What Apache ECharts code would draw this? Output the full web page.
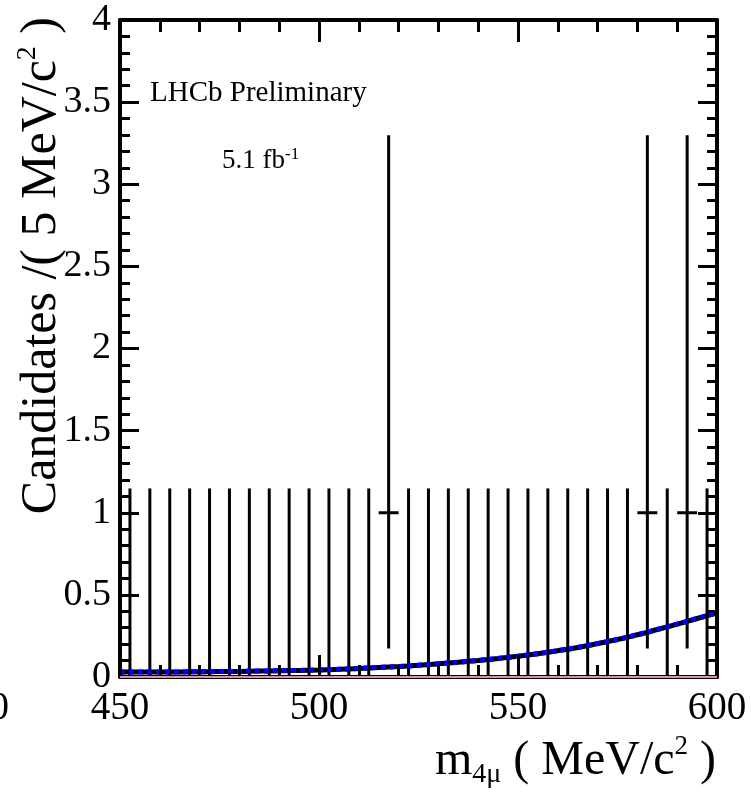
<!DOCTYPE html>
<html>
<head>
<meta charset="utf-8">
<script src="https://cdn.jsdelivr.net/npm/echarts@6/dist/echarts.min.js"></script>
<style>
html,body{margin:0;padding:0;background:#fff;}
#chart{width:751px;height:796px;}
</style>
</head>
<body>
<div id="chart"></div>
<script>
// ---- data ----
const binWidth = 5;
const binCenters = [452.5, 457.5, 462.5, 467.5, 472.5, 477.5, 482.5, 487.5, 492.5, 497.5,
                    502.5, 507.5, 512.5, 517.5, 522.5, 527.5, 532.5, 537.5, 542.5, 547.5,
                    552.5, 557.5, 562.5, 567.5, 572.5, 577.5, 582.5, 587.5, 592.5, 597.5];
const counts     = [0,0,0,0,0,0,0,0,0,0, 0,0,0,1,0,0,0,0,0,0, 0,0,0,0,0,0,1,0,1,0];
const errLow     = [0,0,0,0,0,0,0,0,0,0, 0,0,0,0.827,0,0,0,0,0,0, 0,0,0,0,0,0,0.827,0,0.827,0];
const errHigh    = [1.148,1.148,1.148,1.148,1.148,1.148,1.148,1.148,1.148,1.148,
                    1.148,1.148,1.148,2.299,1.148,1.148,1.148,1.148,1.148,1.148,
                    1.148,1.148,1.148,1.148,1.148,1.148,2.299,1.148,2.299,1.148];
const curveX = [450,455,460,465,470,475,480,485,490,495,500,505,510,515,520,525,530,535,540,545,550,555,560,565,570,575,580,585,590,595,600];
const curveY = [0.030,0.030,0.031,0.031,0.032,0.033,0.034,0.036,0.038,0.040,0.043,0.047,0.052,0.058,0.064,0.071,0.080,0.090,0.101,0.113,0.126,0.142,0.160,0.180,0.203,0.228,0.257,0.289,0.322,0.356,0.390];
const signalX = [450, 600];
const signalY = [0, 0];
const xTickLabels = ['450','500','550','600'];
const yTickLabels = ['0','0.5','1','1.5','2','2.5','3','3.5','4'];

// ---- chart ----
const FONT = 'Liberation Serif';
const chart = echarts.init(document.getElementById('chart'));

const errData = binCenters.map((x, i) => [x, counts[i], errLow[i], errHigh[i]]);
const curveData = curveX.map((x, i) => [x, curveY[i]]);
const signalData = signalX.map((x, i) => [x, signalY[i]]);

function renderErr(params, api) {
  const x = api.value(0), y = api.value(1), lo = api.value(2), hi = api.value(3);
  const top = api.coord([x, y + hi]);
  const bot = api.coord([x, y - lo]);
  const l = api.coord([x - binWidth / 2, y]);
  const r = api.coord([x + binWidth / 2, y]);
  const st = { stroke: '#000', lineWidth: 3 };
  return {
    type: 'group',
    children: [
      { type: 'line', shape: { x1: top[0], y1: top[1], x2: bot[0], y2: bot[1] }, style: st },
      { type: 'line', shape: { x1: l[0], y1: l[1], x2: r[0], y2: r[1] }, style: st }
    ]
  };
}

function xAxisDef(pos, showLabel) {
  return {
    type: 'value', position: pos, min: 450, max: 600, interval: 50, z: 5,
    axisLine: { show: true, onZero: false, lineStyle: { color: '#000', width: 4 } },
    axisTick: { show: true, inside: true, length: 22, lineStyle: { color: '#000', width: 3 } },
    minorTick: { show: true, splitNumber: 5, length: 12, lineStyle: { color: '#000', width: 3 } },
    splitLine: { show: false }, minorSplitLine: { show: false },
    axisLabel: {
      show: showLabel, margin: 12, fontFamily: FONT, fontSize: 39, color: '#000', lineHeight: 40,
      formatter: v => xTickLabels[Math.round((v - 450) / 50)]
    }
  };
}
function yAxisDef(pos, showLabel) {
  return {
    type: 'value', position: pos, min: 0, max: 4, interval: 0.5, z: 5,
    axisLine: { show: true, onZero: false, lineStyle: { color: '#000', width: 4 } },
    axisTick: { show: true, inside: true, length: 19, lineStyle: { color: '#000', width: 3 } },
    minorTick: { show: true, splitNumber: 5, length: 10, lineStyle: { color: '#000', width: 3 } },
    splitLine: { show: false }, minorSplitLine: { show: false },
    axisLabel: {
      show: showLabel, margin: 9, fontFamily: FONT, fontSize: 38, color: '#000',
      formatter: v => yTickLabels[Math.round(v / 0.5)]
    }
  };
}

const option = {
  backgroundColor: '#fff',
  animation: false,
  grid: { left: 120, right: 34, top: 20, bottom: 119, containLabel: false, outerBoundsMode: 'none' },
  xAxis: [xAxisDef('bottom', true), xAxisDef('top', false)],
  yAxis: [yAxisDef('left', true), yAxisDef('right', false)],
  series: [
    {
      type: 'line', data: signalData, clip: false, symbol: 'none', z: 6, zlevel: 1,
      lineStyle: { color: '#e08cb8', width: 2 }
    },
    {
      type: 'custom', renderItem: renderErr, data: errData, clip: false, z: 2,
      encode: { x: 0, y: 1 }
    },
    {
      type: 'line', data: curveData, symbol: 'none', smooth: true, z: 3,
      lineStyle: { color: '#000', width: 5 }
    },
    {
      type: 'line', data: curveData, symbol: 'none', smooth: true, z: 4,
      lineStyle: { color: '#0000ff', width: 5, type: [5, 4] }
    }
  ],
  graphic: [
    {
      type: 'text', x: 150, y: 93, z: 10,
      style: { text: 'LHCb Preliminary', font: '29px ' + FONT, fill: '#000',
               textAlign: 'left', textVerticalAlign: 'middle', align: 'left', verticalAlign: 'middle' }
    },
    {
      type: 'text', x: 222, y: 161, z: 10,
      style: {
        text: '{a|5.1 fb}{s|-1}', fill: '#000',
        textAlign: 'left', textVerticalAlign: 'middle', align: 'left', verticalAlign: 'middle',
        rich: {
          a: { fontFamily: FONT, fontSize: 27, lineHeight: 30, fill: '#000' },
          s: { fontFamily: FONT, fontSize: 17, lineHeight: 18, verticalAlign: 'top', fill: '#000' }
        }
      }
    },
    {
      type: 'text', x: 716, y: 761, z: 10,
      style: {
        text: '{a|m}{b|4μ}{a| ( MeV/c}{s|2}{a| )}', fill: '#000',
        textAlign: 'right', textVerticalAlign: 'middle', align: 'right', verticalAlign: 'middle',
        rich: {
          a: { fontFamily: FONT, fontSize: 48, lineHeight: 56, fill: '#000' },
          b: { fontFamily: FONT, fontSize: 28, lineHeight: 6, verticalAlign: 'bottom', fill: '#000' },
          s: { fontFamily: FONT, fontSize: 27, lineHeight: 22, verticalAlign: 'top', fill: '#000' }
        }
      }
    },
    {
      type: 'text', x: 42, y: 17, rotation: Math.PI / 2, z: 10,
      style: {
        text: '{a|Candidates /( 5 MeV/c}{s|2}{a| )}', fill: '#000',
        textAlign: 'right', textVerticalAlign: 'middle', align: 'right', verticalAlign: 'middle',
        rich: {
          a: { fontFamily: FONT, fontSize: 50, lineHeight: 56, fill: '#000' },
          s: { fontFamily: FONT, fontSize: 28, lineHeight: 22, verticalAlign: 'top', fill: '#000' }
        }
      }
    },
    {
      type: 'text', x: 9, y: 709, z: 10,
      style: { text: '0', font: '39px ' + FONT, fill: '#000',
               textAlign: 'right', textVerticalAlign: 'middle', align: 'right', verticalAlign: 'middle' }
    }
  ]
};
chart.setOption(option);
</script>
</body>
</html>
